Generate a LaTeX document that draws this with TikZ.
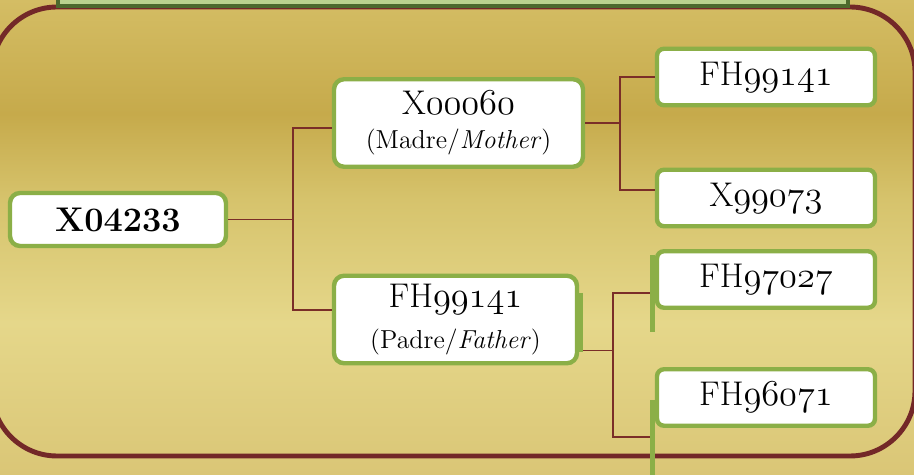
\documentclass[tikz,border=0pt]{standalone}
\usepackage{tikz}
\definecolor{goldtop}{HTML}{D4BD64}
\definecolor{golddark}{HTML}{C6AA4B}
\definecolor{goldmid}{HTML}{D6C36C}
\definecolor{goldlight}{HTML}{E5D78A}
\definecolor{goldlow}{HTML}{DAC676}
\definecolor{maroon}{HTML}{732828}
\definecolor{linkred}{HTML}{7A2E28}
\definecolor{leafgreen}{HTML}{8BAF47}
\definecolor{palegreen}{HTML}{B9D38E}
\definecolor{darkgreen}{HTML}{4B6A2D}
\pgfdeclareverticalshading{goldband}{100bp}{color(0bp)=(goldlow); color(25bp)=(goldlow); color(41bp)=(goldlight); color(54bp)=(goldmid); color(63bp)=(golddark); color(75bp)=(goldtop); color(100bp)=(goldtop)}
\newcommand\osf[1]{{\usefont{OML}{lmm}{m}{it}#1}}
\newcommand\idfont{\fontsize{19.5}{22}\selectfont}
\newcommand\subfont{\fontsize{14.8}{17}\selectfont}

\begin{document}
\begin{tikzpicture}[x=0.02cm, y=-0.02cm,
  card/.style={draw=leafgreen, line width=2.5pt, fill=white, rounded corners=0.2cm, inner sep=0pt},
  parent/.style={card, minimum width=4.98cm, minimum height=1.75cm, align=center, font=\idfont},
  leaf/.style={card, rounded corners=0.14cm, minimum width=4.36cm, minimum height=1.13cm, font=\idfont},
  link/.style={draw=linkred, line width=1.1pt},
  stub/.style={draw=leafgreen, line width=2.8pt}]
\useasboundingbox (0, 0) rectangle (914, 475);
\shade [shading=goldband] (0, 0) rectangle (914, 475);
\draw [maroon, line width=2.8pt, rounded corners=1.3cm] (-8, 7) rectangle (915, 456);
\draw [draw=darkgreen, fill=palegreen, line width=2.2pt] (58, -10) rectangle (848, 6);
\node [card, minimum width=4.32cm, minimum height=1.06cm, font=\idfont\bfseries] (root) at (118, 219.5) {X04233};
\node [parent] (mother) at (458.5, 123) {X\osf{00060}\\[-3pt]{\subfont(Madre/\textit{Mother})}};
\node [parent, minimum width=4.86cm] (father) at (455.5, 319.5) {FH\osf{99141}\\[1pt]{\subfont(Padre/\textit{Father})}};
\node [leaf] (mm) at (766, 77) {FH\osf{99141}};
\node [leaf] (mf) at (766, 198) {X\osf{99073}};
\node [leaf] (fm) at (766, 279.5) {FH\osf{97027}};
\node [leaf] (ff) at (766, 397.5) {FH\osf{96071}};
\draw [link] (root.east) -- ++(65, 0) coordinate (rootfork);
\draw [link] (rootfork) |- ([yshift=-0.1cm]mother.west);
\draw [link] (rootfork) |- ([yshift=0.19cm]father.west);
\draw [link] (mother.east) -- ++(35, 0) coordinate (motherfork);
\draw [link] (motherfork) |- (mm.west);
\draw [link] (motherfork) |- ([yshift=0.16cm]mf.west);
\draw [link] ([yshift=-0.62cm]father.east) -- ++(34, 0) coordinate (fatherfork);
\draw [link] (fatherfork) |- ([yshift=-0.27cm]fm.west);
\draw [link] (fatherfork) |- ([yshift=-0.79cm, xshift=-0.1cm]ff.west) coordinate (fatherend);
\draw [stub, line width=4pt] ([yshift=0.53cm]father.east) -- ([yshift=-0.65cm]father.east);
\draw [stub] ([yshift=0.49cm, xshift=-0.05cm]fm.west) -- ([yshift=-1.05cm, xshift=-0.05cm]fm.west);
\draw [stub] ([yshift=-0.05cm, xshift=-0.05cm]ff.west) -- ([yshift=-1.7cm, xshift=-0.05cm]ff.west);
\end{tikzpicture}
\end{document}
